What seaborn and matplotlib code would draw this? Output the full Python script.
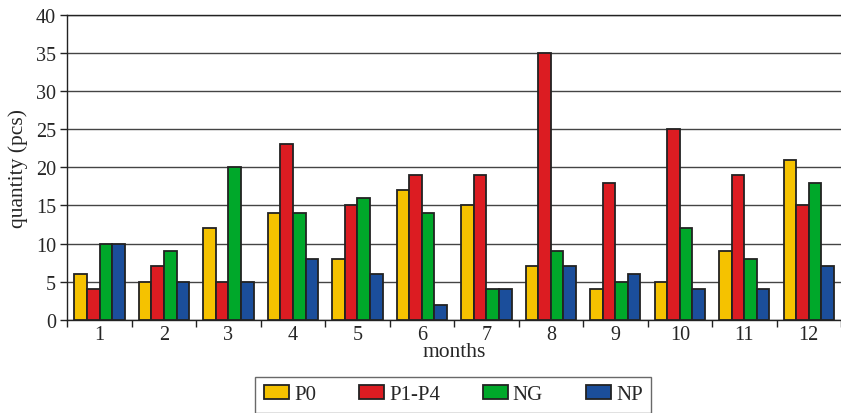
import matplotlib
matplotlib.use("Agg")
import matplotlib.pyplot as plt
import seaborn as sns
import pandas as pd

months = [str(m) for m in range(1, 13)]
p0 = [6, 5, 12, 14, 8, 17, 15, 7, 4, 5, 9, 21]
p1_p4 = [4, 7, 5, 23, 15, 19, 19, 35, 18, 25, 19, 15]
ng = [10, 9, 20, 14, 16, 14, 4, 9, 5, 12, 8, 18]
np_ = [10, 5, 5, 8, 6, 2, 4, 7, 6, 4, 4, 7]
series_names = ["P0", "P1-P4", "NG", "NP"]
colors = ["#F5C200", "#DC1C22", "#00A82A", "#1B4E9B"]

df = pd.DataFrame({"month": months, "P0": p0, "P1-P4": p1_p4, "NG": ng, "NP": np_})
long = df.melt(id_vars="month", var_name="series", value_name="qty")

sns.set_style("white")
plt.rcParams["font.family"] = ["Liberation Serif", "DejaVu Serif"]

fig = plt.figure(figsize=(8.41, 4.14), dpi=100)
ax = fig.add_axes([0.08, 0.225, 0.92, 0.737])

sns.barplot(data=long, x="month", y="qty", hue="series", hue_order=series_names,
            palette=colors, width=0.78, gap=0, edgecolor="#222222", linewidth=1.3,
            saturation=1, ax=ax, legend=True, zorder=3)

ax.set_ylim(0, 40)
ax.set_xlim(-0.5, 11.5)
ax.set_yticks(range(0, 41, 5))
ax.yaxis.grid(True, color="#444444", linewidth=1.0, zorder=0)
ax.set_axisbelow(True)
for side in ["left", "bottom", "top"]:
    ax.spines[side].set_visible(True)
    ax.spines[side].set_color("#222222")
    ax.spines[side].set_linewidth(1.0)
ax.spines["right"].set_visible(False)

ax.set_xticks(range(12))
ax.set_xticklabels(months)
ax.set_xticks([i + 0.5 for i in range(-1, 12)], minor=True)
ax.tick_params(axis="x", which="major", length=0, labelsize=14.5, pad=4)
ax.tick_params(axis="x", which="minor", length=5, width=1, color="#222222", direction="out", bottom=True)
ax.tick_params(axis="y", length=5, width=1, color="#222222", direction="out", left=True,
               labelsize=14.5, pad=3)

ax.set_xlabel("months", fontsize=15.5, labelpad=-2)
ax.set_ylabel("quantity (pcs)", fontsize=15.5, labelpad=6)

handles, labels = ax.get_legend_handles_labels()
ax.get_legend().remove()
fig.legend(handles, labels, loc="upper center", bbox_to_anchor=(0.539, 0.088), ncol=4,
           frameon=True, fancybox=False, edgecolor="#444444", fontsize=15,
           handlelength=1.2, handleheight=0.68, handletextpad=0.25, columnspacing=2.05,
           borderpad=0.4, borderaxespad=0)

fig.savefig("out.png", dpi=100)
